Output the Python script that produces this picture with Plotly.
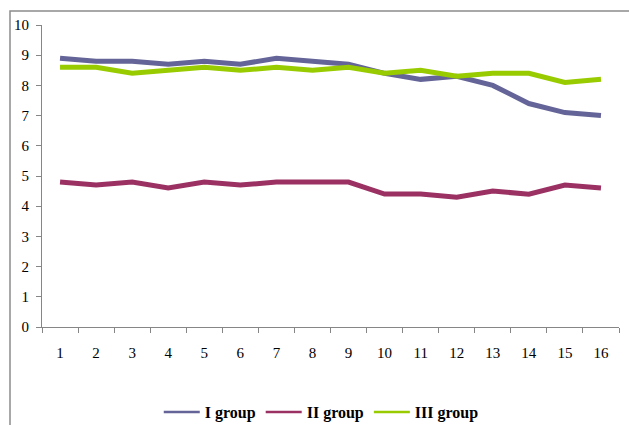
import plotly.graph_objects as go

# Sample index along the x axis
categories = [str(i) for i in range(1, 17)]

# Measured values for each group
group_1 = [8.9, 8.8, 8.8, 8.7, 8.8, 8.7, 8.9, 8.8, 8.7, 8.4, 8.2, 8.3, 8.0, 7.4, 7.1, 7.0]
group_2 = [4.8, 4.7, 4.8, 4.6, 4.8, 4.7, 4.8, 4.8, 4.8, 4.4, 4.4, 4.3, 4.5, 4.4, 4.7, 4.6]
group_3 = [8.6, 8.6, 8.4, 8.5, 8.6, 8.5, 8.6, 8.5, 8.6, 8.4, 8.5, 8.3, 8.4, 8.4, 8.1, 8.2]

series_names = ["I group", "II group", "III group"]
series_colors = ["#646498", "#9B3163", "#99CC00"]
y_ticks = list(range(0, 11))

fig = go.Figure()
for name, vals, color in zip(series_names, [group_1, group_2, group_3], series_colors):
    # thick data line
    fig.add_trace(go.Scatter(
        x=categories, y=vals, mode="lines", name=name,
        line=dict(color=color, width=5), showlegend=False,
    ))
    # thin legend entry
    fig.add_trace(go.Scatter(
        x=[None], y=[None], mode="lines", name=name,
        line=dict(color=color, width=2.5), showlegend=True,
    ))

axis_color = "#868686"
font_family = "Liberation Serif, Times New Roman, serif"

fig.update_layout(
    width=629, height=425,
    margin=dict(l=42, r=10, t=25, b=98, autoexpand=False),
    paper_bgcolor="white", plot_bgcolor="white",
    font=dict(family=font_family, size=15, color="black"),
    showlegend=True,
    legend=dict(
        orientation="h", x=0.484, xanchor="center",
        yref="container", y=13 / 425, yanchor="middle",
        font=dict(family=font_family, size=16, color="black", weight="bold"),
        itemwidth=36, tracegroupgap=0, bgcolor="rgba(0,0,0,0)",
    ),
    xaxis=dict(
        type="category", range=[-0.5, 15.5], automargin=False,
        showline=True, linecolor=axis_color, linewidth=1,
        ticks="outside", tickson="boundaries", ticklen=5, tickcolor=axis_color,
        showgrid=False, zeroline=False, ticklabelstandoff=12,
        tickfont=dict(size=15), fixedrange=True,
    ),
    yaxis=dict(
        range=[0, 10], tickvals=y_ticks, showline=True, linecolor=axis_color,
        linewidth=1, ticks="outside", ticklen=5, tickcolor=axis_color,
        showgrid=False, zeroline=False, tickfont=dict(size=15), automargin=False,
        ticklabelstandoff=4, fixedrange=True,
    ),
    shapes=[
        # outer frame, partly running off the page
        dict(type="rect", xref="paper", yref="paper",
             x0=(10 - 42) / 577, x1=1.2, y0=-1.0, y1=1 + (25 - 11) / 302,
             line=dict(color="#8C8C8C", width=1.5), fillcolor="rgba(0,0,0,0)",
             layer="below"),
    ],
)

fig.write_html("out.html")
